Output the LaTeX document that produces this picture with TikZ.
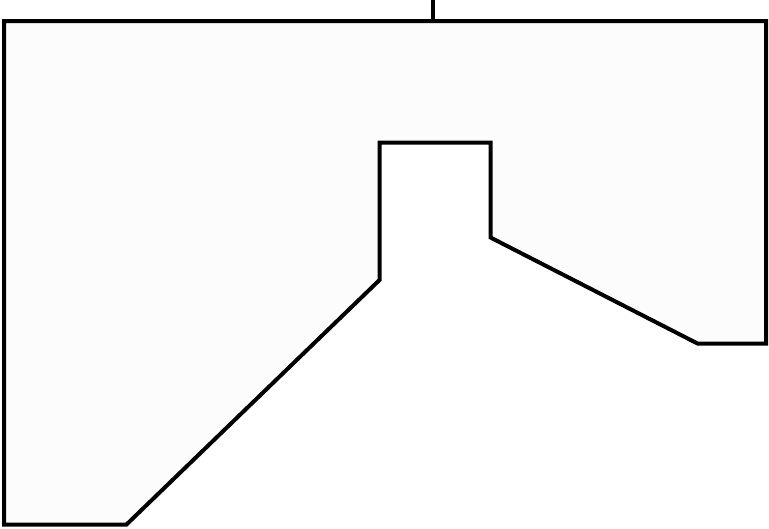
\documentclass[tikz,border=0pt]{standalone}
\definecolor{plate}{RGB}{252,252,252}
\begin{document}
\begin{tikzpicture}[x=1pt, y=-1pt, line join=miter, line cap=butt]
 \def\w{769}\def\h{528}
 \useasboundingbox (0,0) rectangle (\w,\h);
 \draw[line width=4pt, fill=plate] (4,21)--(766,21)--(766,343.5)--(697.5,343.5)--(490.5,237.5)--(490.5,142.5)--(379.5,142.5)--(379.5,280)--(126.5,524.5)--(4,524.5)--cycle;
 \coordinate (top) at (433,21);
 \draw[line width=4pt] (top)--++(0,-21);
\end{tikzpicture}
\end{document}
